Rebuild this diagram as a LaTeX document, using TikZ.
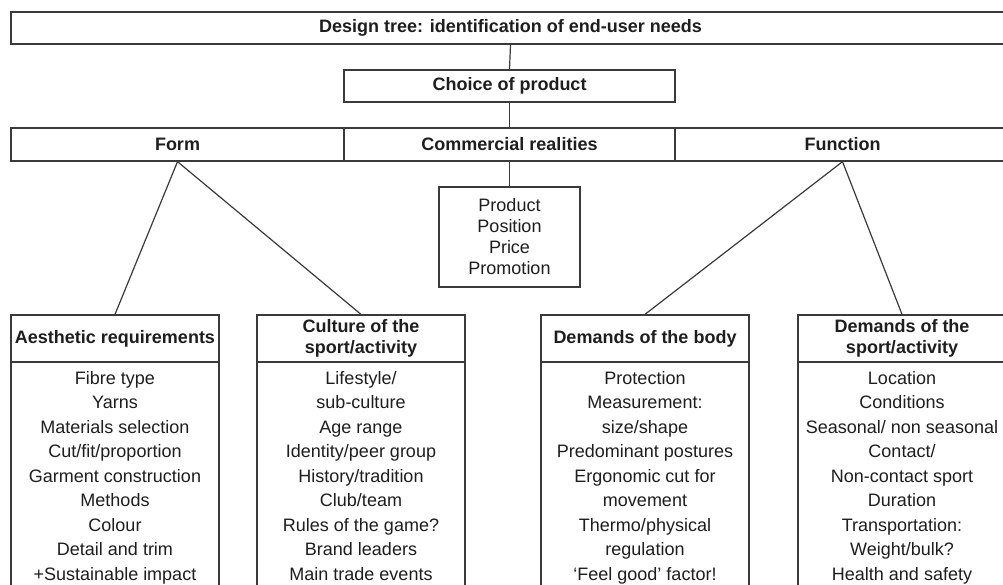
\documentclass[tikz,border=0pt]{standalone}
\usepackage{fontspec}
\setmainfont{Liberation Sans}
\definecolor{linecol}{HTML}{3A3A3A}
\definecolor{txtcol}{HTML}{1E1E1E}
\begin{document}
\begin{tikzpicture}[x=1pt,y=-1pt,
  box/.style={draw=linecol, line width=1.3pt, rectangle, inner sep=0pt, text=txtcol},
  hd/.style={box, font=\fontsize{18}{21}\selectfont\bfseries, align=center},
  prodbox/.style={box, font=\fontsize{18}{21}\selectfont, align=center},
  headbox/.style={hd, minimum width=208, minimum height=47},
  bodybox/.style={box, font=\fontsize{18}{24.5}\selectfont, align=center, anchor=north,
    minimum width=208, inner ysep=8.5pt},
  conn/.style={draw=linecol, line width=1.2pt}]
\useasboundingbox (0,0) rectangle (1003,585);
\clip (0,0) rectangle (1003,585);
\fill[white] (0,0) rectangle (1003,585);

\node[hd, minimum width=999, minimum height=32] (top) at (510.5,28) {Design tree: identification of end-user needs};
\node[hd, minimum width=331, minimum height=32] (choice) at (509.5,86) {Choice of product};
\node[hd, minimum width=333, minimum height=33] (form) at (177.5,144.5) {Form};
\node[hd, minimum width=331, minimum height=33] (comm) at (509.5,144.5) {Commercial realities};
\node[hd, minimum width=335, minimum height=33] (func) at (842.5,144.5) {Function};
\node[prodbox, minimum width=141, minimum height=100] (prod) at (509.5,237) {Product\\Position\\Price\\Promotion};

\node[headbox] (aes) at (115,338.5) {Aesthetic requirements};
\node[headbox] (cul) at (361,338.5) {Culture of the\\sport/activity};
\node[headbox] (bod) at (645,338.5) {Demands of the body};
\node[headbox] (spt) at (902,338.5) {Demands of the\\sport/activity};

\node[bodybox] (aesb) at (115,362) {Fibre type\\Yarns\\Materials selection\\Cut/fit/proportion\\Garment construction\\Methods\\Colour\\Detail and trim\\+Sustainable impact};
\node[bodybox] (culb) at (361,362) {Lifestyle/\\sub-culture\\Age range\\Identity/peer group\\History/tradition\\Club/team\\Rules of the game?\\Brand leaders\\Main trade events};
\node[bodybox] (bodb) at (645,362) {Protection\\Measurement:\\size/shape\\Predominant postures\\Ergonomic cut for\\movement\\Thermo/physical\\regulation\\‘Feel good’ factor!};
\node[bodybox] (sptb) at (902,362) {Location\\Conditions\\Seasonal/ non seasonal\\Contact/\\Non-contact sport\\Duration\\Transportation:\\Weight/bulk?\\Health and safety};

\draw[conn] (top.south) -- (choice.north);
\draw[conn] (choice.south) -- (comm.north);
\draw[conn] (comm.south) -- (prod.north);
\draw[conn] (form.south) -- (aes.north);
\draw[conn] (form.south) -- (cul.north);
\draw[conn] (func.south) -- (bod.north);
\draw[conn] (func.south) -- (spt.north);
\end{tikzpicture}
\end{document}
